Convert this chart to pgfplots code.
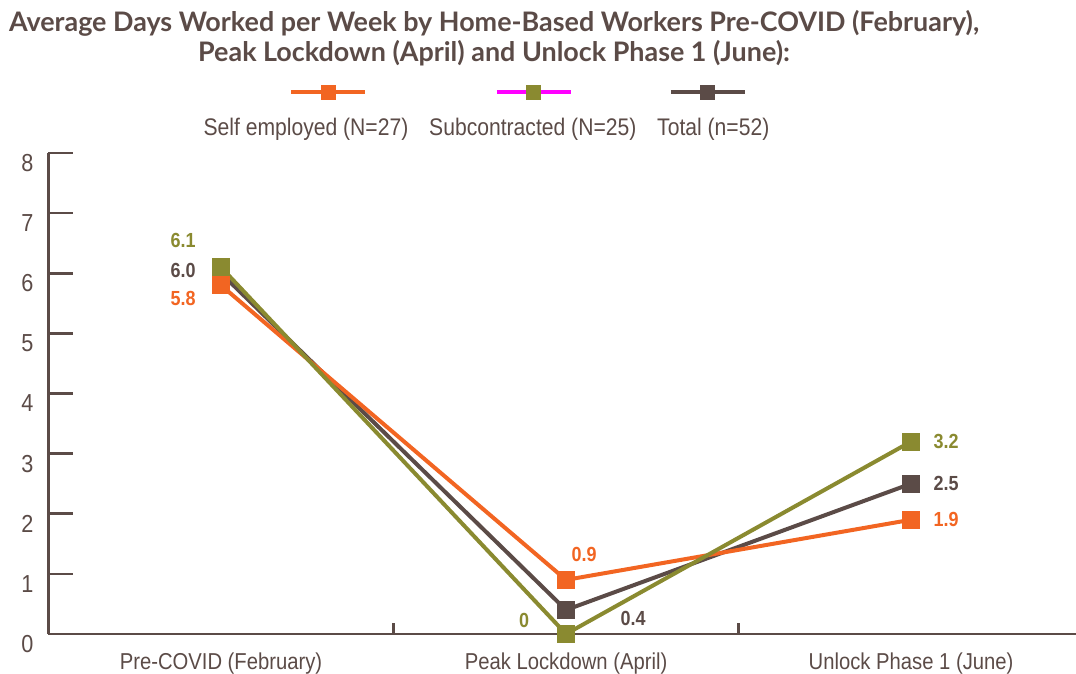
\documentclass[border=0pt]{standalone}
\usepackage{fontspec}
\setmainfont{Liberation Sans}[FakeStretch=0.88]
\newfontfamily\titlefont{Lato}
\usepackage{pgfplots}
\pgfplotsset{compat=1.18}
\usepackage{pgfplotstable}
\definecolor{cOr}{HTML}{F26522}
\definecolor{cOl}{HTML}{8A8A30}
\definecolor{cBr}{HTML}{5B4B47}
\definecolor{cTx}{HTML}{5B4B47}
\definecolor{cMg}{HTML}{FF00FF}

\pgfplotstableread{
x y dx dy lab
0 5.8 -19 -6.5 5.8
1 0.9 9 12.5 0.9
2 1.9 17.5 0 1.9
}\selfemp
\pgfplotstableread{
x y dx dy lab
0 6.1 -19 13.5 6.1
1 0 -21 7 0
2 3.2 17.5 0 3.2
}\subcon
\pgfplotstableread{
x y dx dy lab
0 6.0 -19 1.5 6.0
1 0.4 33.5 -4.5 0.4
2 2.5 17.5 0 2.5
}\total

\begin{document}
\begin{tikzpicture}
\begin{axis}[
  name=ax,
  scale only axis,
  width=513.75pt, height=240.5pt,
  xmin=-0.5, xmax=2.478,
  ymin=0, ymax=8,
  clip=false,
  axis x line=bottom, axis y line=left,
  axis line style={-, line width=1.3pt, cTx},
  every tick/.style={line width=1.3pt, cTx},
  tick align=inside,
  major tick length=12pt,
  ytick={0,1,...,8},
  xtick={0,1,2},
  xticklabels={Pre-COVID (February), Peak Lockdown (April), Unlock Phase 1 (June)},
  xtick style={draw=none},
  extra x ticks={0.5,1.5},
  extra x tick labels={},
  extra x tick style={major tick length=5.5pt, xtick style={draw=cTx, line width=1.3pt}},
  /pgf/number format/assume math mode=true,
  yticklabel style={font=\fontsize{12.3}{14}\selectfont, color=cTx, anchor=east, xshift=-4pt, yshift=-5pt},
  xticklabel style={font=\fontsize{11.5}{14}\selectfont, color=cTx, anchor=center, yshift=-15pt},
  title={Average Days Worked per Week by Home-Based Workers Pre-COVID (February),\\Peak Lockdown (April) and Unlock Phase 1 (June):},
  title style={at={(0.4336,1.214)}, anchor=center, align=center, font=\titlefont\bfseries\fontsize{13.45}{15}\selectfont, color=cTx},
  legend columns=3,
  legend style={draw=none, fill=none, at={(0.140,1.052)}, anchor=west,
    font=\fontsize{12}{14}\selectfont, text=cTx,
    /tikz/every even column/.append style={column sep=6pt}},
  point meta=explicit symbolic,
  nodes near coords,
  visualization depends on={\thisrow{dx}\as\dx},
  visualization depends on={\thisrow{dy}\as\dy},
  every node near coord/.append style={anchor=center, xshift=\dx pt, yshift=\dy pt, font=\bfseries\fontsize{10.2}{12}\selectfont},
]
\addlegendimage{legend image code/.code={
  \path (0,0) circle (0pt);
  \draw[overlay, cOr, line width=2pt] (46pt,18pt) -- (83pt,18pt);
  \fill[overlay, cOr] (61pt,14.5pt) rectangle ++(7pt,7pt);
}}
\addlegendentry{Self employed (N=27)}
\addlegendimage{legend image code/.code={
  \path (0,0) circle (0pt);
  \draw[overlay, cMg, line width=2pt] (36pt,18pt) -- (73pt,18pt);
  \fill[overlay, cOl] (51pt,14.5pt) rectangle ++(7pt,7pt);
}}
\addlegendentry{Subcontracted (N=25)}
\addlegendimage{legend image code/.code={
  \path (0,0) circle (0pt);
  \draw[overlay, cBr, line width=2pt] (9pt,18pt) -- (46pt,18pt);
  \fill[overlay, cBr] (24pt,14.5pt) rectangle ++(7pt,7pt);
}}
\addlegendentry{Total (n=52)}

\addplot[forget plot, cBr, line width=2pt, mark=square*, mark size=3.5pt, mark options={solid}, every node near coord/.append style={text=cBr}]
  table[x=x, y=y, meta=lab] {\total};
\addplot[forget plot, cOr, line width=2pt, mark=square*, mark size=3.5pt, mark options={solid}, every node near coord/.append style={text=cOr}]
  table[x=x, y=y, meta=lab] {\selfemp};
\addplot[forget plot, cOl, line width=2pt, mark=square*, mark size=3.5pt, mark options={solid}, every node near coord/.append style={text=cOl}]
  table[x=x, y=y, meta=lab] {\subcon};
\end{axis}
\pgfresetboundingbox
\path (ax.south west) ++(-24.25pt,-20pt) rectangle ++(538pt,337pt);
\end{tikzpicture}
\end{document}
